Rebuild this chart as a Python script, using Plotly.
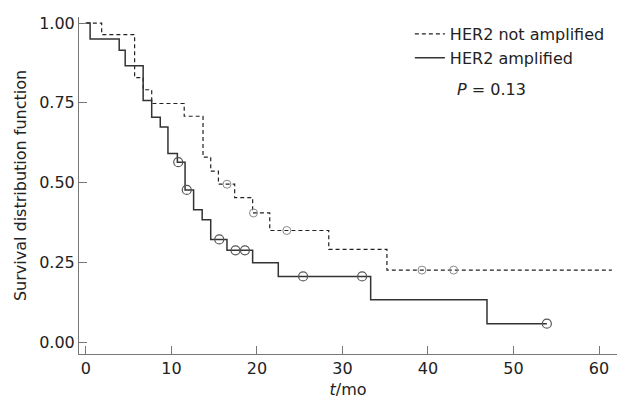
import plotly.graph_objects as go

# ---- data ----
# HER2 not amplified: step times and survival after each step
na_times = [0, 1.85, 5.7, 6.7, 7.7, 11.5, 13.7, 14.6, 15.5, 17.4, 19.5, 21.5, 28.4, 35.2, 61.5]
na_surv = [1.0, 0.964, 0.829, 0.791, 0.748, 0.708, 0.580, 0.536, 0.495, 0.453, 0.405, 0.350, 0.291, 0.226, 0.226]
na_cens_t = [16.5, 19.6, 23.5, 39.3, 43.0]
na_cens_s = [0.495, 0.405, 0.350, 0.226, 0.226]

# HER2 amplified
amp_times = [0, 0.5, 3.9, 4.6, 6.7, 7.7, 8.7, 9.6, 10.7, 11.6, 12.6, 13.6, 14.6, 16.5, 19.5, 22.5, 33.3, 46.9, 53.9]
amp_surv = [1.0, 0.950, 0.915, 0.866, 0.757, 0.705, 0.674, 0.591, 0.564, 0.477, 0.415, 0.384, 0.322, 0.288, 0.249, 0.206, 0.133, 0.058, 0.058]
amp_cens_t = [10.8, 11.8, 15.6, 17.5, 18.6, 25.4, 32.3, 53.9]
amp_cens_s = [0.564, 0.477, 0.322, 0.288, 0.288, 0.206, 0.206, 0.058]

x_ticks = [0, 10, 20, 30, 40, 50, 60]
y_ticks = [0, 0.25, 0.5, 0.75, 1.0]
y_ticktext = ["0.00", "0.25", "0.50", "0.75", "1.00"]

FONT = "DejaVu Sans"
FS = 16
AXIS_COLOR = "#777777"

fig = go.Figure()

fig.add_trace(go.Scatter(
    x=na_times, y=na_surv, mode="lines", line_shape="hv",
    line=dict(color="#222222", width=1.2, dash="4px,3px"),
    name="HER2 not amplified",
))
fig.add_trace(go.Scatter(
    x=amp_times, y=amp_surv, mode="lines", line_shape="hv",
    line=dict(color="#333333", width=1.5),
    name="HER2 amplified",
))
fig.add_trace(go.Scatter(
    x=na_cens_t, y=na_cens_s, mode="markers", showlegend=False,
    marker=dict(symbol="circle-open", size=8, color="#8a8a8a", line=dict(width=1)),
))
fig.add_trace(go.Scatter(
    x=amp_cens_t, y=amp_cens_s, mode="markers", showlegend=False,
    marker=dict(symbol="circle-open", size=9, color="#555555", line=dict(width=1.2)),
))

fig.add_annotation(
    text="<i>P</i> = 0.13", xref="paper", yref="paper",
    x=0.699, y=0.785, xanchor="left", yanchor="middle", showarrow=False,
    font=dict(family=FONT, size=FS, color="#222222"),
)

# the page body has an 8px default margin, so the figure is drawn 8px in
fig.update_layout(
    width=622, height=403,
    margin=dict(l=71, r=13, t=6, b=57),
    paper_bgcolor="white", plot_bgcolor="white",
    font=dict(family=FONT, size=FS, color="#222222"),
    showlegend=True,
    legend=dict(
        x=0.615, y=1.0, xanchor="left", yanchor="top",
        bgcolor="rgba(0,0,0,0)", font=dict(family=FONT, size=FS, color="#222222"),
    ),
    xaxis=dict(
        range=[-0.8, 62.1], tickvals=x_ticks, ticks="inside", ticklen=8,
        tickcolor=AXIS_COLOR, showline=True, linecolor=AXIS_COLOR, linewidth=1,
        showgrid=False, zeroline=False,
        title=dict(text="<i>t</i>/mo", font=dict(family=FONT, size=FS), standoff=6),
    ),
    yaxis=dict(
        range=[-0.037, 1.019], tickvals=y_ticks, ticktext=y_ticktext, ticks="inside",
        ticklen=8, tickcolor=AXIS_COLOR, showline=True, linecolor=AXIS_COLOR, linewidth=1,
        showgrid=False, zeroline=False,
        title=dict(text="Survival distribution function", font=dict(family=FONT, size=FS), standoff=8),
    ),
)

fig.write_html("out.html")
